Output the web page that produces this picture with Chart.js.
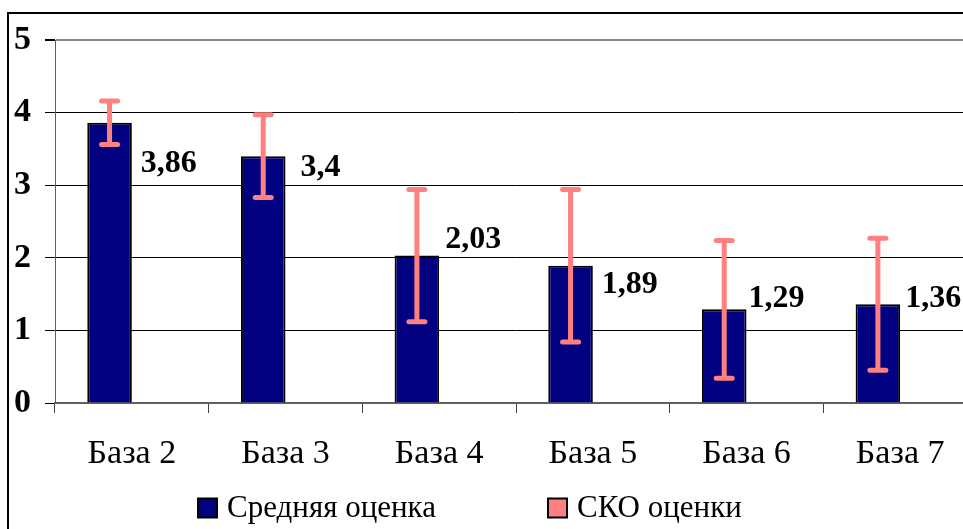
<!DOCTYPE html>
<html lang="ru">
<head>
<meta charset="utf-8">
<title>Средняя оценка по базам</title>
<script src="https://cdn.jsdelivr.net/npm/chart.js@4.4.1/dist/chart.umd.min.js"></script>
<style>
  html, body { margin: 0; padding: 0; background: #fff; overflow: hidden; }
  #wrap { position: relative; width: 1000px; height: 529px; }
</style>
</head>
<body>
<div id="wrap"><canvas id="grafico"></canvas></div>
<script>
// Dados das bases
const bases = ['База 2', 'База 3', 'База 4', 'База 5', 'База 6', 'База 7'];
const srednyaya = [3.86, 3.4, 2.03, 1.89, 1.29, 1.36];
const sko = [0.30, 0.57, 0.91, 1.05, 0.95, 0.91];
const eixoY = [0, 1, 2, 3, 4, 5];

// Deslocamento dos rótulos em relação à barra: [dx da borda direita, dy do topo]
const posRotulos = [[9, 38], [15, 9], [6, -19], [9, 16], [2, -13], [5, -8]];

const FONTE = "'Liberation Serif'";
const COR_BARRA = '#000080';
const COR_SKO = '#FF8080';

// Moldura do gráfico
const moldura = {
    id: 'moldura',
    beforeDraw(chart) {
        const ctx = chart.ctx;
        ctx.save();
        ctx.strokeStyle = '#000';
        ctx.lineWidth = 2;
        ctx.strokeRect(8, 13, 2000, 2000);
        ctx.restore();
    }
};

// Barras de erro (média ± СКО) e rótulos com os valores
const barrasErro = {
    id: 'barrasErro',
    afterDatasetsDraw(chart) {
        const ctx = chart.ctx;
        const y = chart.scales.y;
        const barras = chart.getDatasetMeta(0).data;
        ctx.save();
        ctx.strokeStyle = COR_SKO;
        ctx.lineWidth = 5;
        ctx.lineCap = 'round';
        barras.forEach((bar, i) => {
            const topo = y.getPixelForValue(srednyaya[i] + sko[i]);
            const base = y.getPixelForValue(srednyaya[i] - sko[i]);
            ctx.beginPath();
            ctx.moveTo(bar.x, topo);
            ctx.lineTo(bar.x, base);
            ctx.moveTo(bar.x - 8, topo);
            ctx.lineTo(bar.x + 8, topo);
            ctx.moveTo(bar.x - 8, base);
            ctx.lineTo(bar.x + 8, base);
            ctx.stroke();
        });

        ctx.fillStyle = '#000';
        ctx.font = 'bold 32px ' + FONTE;
        ctx.textAlign = 'left';
        ctx.textBaseline = 'alphabetic';
        barras.forEach((bar, i) => {
            const texto = String(srednyaya[i]).replace('.', ',');
            const [dx, dy] = posRotulos[i];
            ctx.fillText(texto, bar.x + bar.width / 2 + dx, bar.y + dy + 11);
        });
        ctx.restore();
    }
};

// Legenda desenhada à mão para manter o espaçamento entre os itens
const legenda = {
    id: 'legenda',
    afterDraw(chart) {
        const ctx = chart.ctx;
        const itens = [{ x: 198 }, { x: 548 }];
        const yc = 508;
        ctx.save();
        ctx.font = '31px ' + FONTE;
        ctx.textBaseline = 'middle';
        ctx.textAlign = 'left';
        chart.data.datasets.forEach((ds, i) => {
            const x = itens[i].x;
            ctx.fillStyle = ds.backgroundColor;
            ctx.fillRect(x, yc - 9.5, 19, 19);
            ctx.strokeStyle = '#000';
            ctx.lineWidth = 2;
            ctx.strokeRect(x, yc - 9.5, 19, 19);
            ctx.fillStyle = '#000';
            ctx.fillText(ds.label, x + 29, yc + 1);
        });
        ctx.restore();
    }
};

function desenhar() {
    const ctx = document.getElementById('grafico').getContext('2d');

    new Chart(ctx, {
        type: 'bar',
        data: {
            labels: bases,
            datasets: [
                {
                    label: 'Средняя оценка',
                    data: srednyaya,
                    backgroundColor: COR_BARRA,
                    borderColor: '#000',
                    borderWidth: 2
                },
                {
                    // só ocupa o segundo lugar do grupo; os valores viram barras de erro
                    label: 'СКО оценки',
                    data: bases.map(() => null),
                    backgroundColor: COR_SKO,
                    borderColor: '#000',
                    borderWidth: 2
                }
            ]
        },
        options: {
            responsive: true,
            maintainAspectRatio: false,
            animation: false,
            categoryPercentage: 0.58,
            barPercentage: 1,
            layout: { padding: { top: 40, left: 0, right: 23, bottom: 56 } },
            plugins: {
                legend: { display: false },
                tooltip: { enabled: false }
            },
            scales: {
                x: {
                    afterFit: s => { s.height = 70; },
                    grid: {
                        display: true,
                        drawOnChartArea: false,
                        drawTicks: true,
                        tickLength: 10,
                        color: '#404040',
                        offset: true
                    },
                    border: { display: true, color: '#606060', width: 2 },
                    ticks: {
                        color: '#000',
                        padding: 21,
                        font: { family: FONTE, size: 34 }
                    }
                },
                y: {
                    min: eixoY[0],
                    max: eixoY[eixoY.length - 1],
                    afterFit: s => { s.width = 55; },
                    afterBuildTicks: s => { s.ticks = eixoY.map(v => ({ value: v })); },
                    grid: {
                        drawTicks: true,
                        tickLength: 10,
                        tickColor: '#000',
                        color: c => c.tick.value === 5 ? '#888' : (c.tick.value === 0 ? 'rgba(0,0,0,0)' : '#000'),
                        lineWidth: c => c.tick.value === 5 ? 2 : 1
                    },
                    border: { display: true, color: '#606060', width: 1 },
                    ticks: {
                        color: '#000',
                        padding: 14,
                        font: { family: FONTE, size: 34, weight: 'bold' }
                    }
                }
            }
        },
        plugins: [moldura, barrasErro, legenda]
    });
}

// espera as fontes antes de desenhar no canvas
Promise.all([
    document.fonts.load("34px 'Liberation Serif'", 'База'),
    document.fonts.load("bold 34px 'Liberation Serif'", '0123456789,')
]).then(desenhar, desenhar);
</script>
</body>
</html>
